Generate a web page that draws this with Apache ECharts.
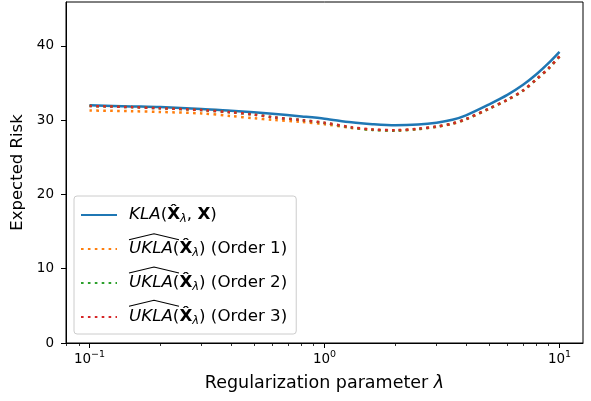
<!DOCTYPE html>
<html><head><meta charset="utf-8">
<script src="https://cdn.jsdelivr.net/npm/echarts@6/dist/echarts.min.js"></script>
<style>html,body{margin:0;padding:0;background:#fff}#c{width:591px;height:401px}</style>
</head><body><div id="c"></div>
<script>
// ---- data ----
const lambdas   = [0.1, 0.15, 0.2, 0.3, 0.4, 0.5, 0.6, 0.8, 1.0, 1.3, 1.6, 2.0, 2.5, 3.0, 3.5, 4.0, 5.0, 6.0, 7.0, 8.0, 9.0, 10.0];
const klaValues = [32.0, 31.85, 31.75, 31.5, 31.25, 31.05, 30.85, 30.5, 30.2, 29.7, 29.45, 29.3, 29.4, 29.65, 30.05, 30.65, 32.1, 33.4, 34.75, 36.2, 37.7, 39.2];
const order1    = [31.3, 31.2, 31.1, 30.9, 30.55, 30.25, 30.05, 29.75, 29.45, 28.95, 28.7, 28.6, 28.8, 29.1, 29.5, 30.1, 31.5, 32.7, 33.95, 35.5, 36.95, 38.55];
const order2    = [31.9, 31.75, 31.6, 31.35, 31.05, 30.75, 30.4, 30.0, 29.62, 29.0, 28.68, 28.58, 28.8, 29.12, 29.53, 30.13, 31.53, 32.73, 33.98, 35.53, 36.98, 38.58];
const order3    = [31.9, 31.75, 31.6, 31.35, 31.05, 30.75, 30.4, 30.0, 29.65, 29.05, 28.75, 28.65, 28.85, 29.15, 29.55, 30.15, 31.55, 32.75, 34.0, 35.55, 37.0, 38.6];
const yTicks = [0, 10, 20, 30, 40];
const xMajorTicks = [0.1, 1, 10];
const xMajorExp = {'0.1': '\u22121', '1': '0', '10': '1'};
const xMinorTicks = [0.08, 0.09, 0.2, 0.3, 0.4, 0.5, 0.6, 0.7, 0.8, 0.9, 2, 3, 4, 5, 6, 7, 8, 9];
const seriesNames = ['KLA', 'UKLA1', 'UKLA2', 'UKLA3'];
const colors = ['#1f77b4', '#ff7f0e', '#2ca02c', '#d62728'];

const FONT = 'DejaVu Sans';
const LFS = 16.7;
const pair = (ys) => lambdas.map((x, i) => [x, ys[i]]);
const dotted = [2.6, 4.3];

const legendText = {
  KLA:   '{it|KLA}(' + '{bx|X\u0302}{sub|\u03bb}, {bx|X})',
  UKLA1: '{it|UKLA}(' + '{bx|X\u0302}{sub|\u03bb}) (Order 1)',
  UKLA2: '{it|UKLA}(' + '{bx|X\u0302}{sub|\u03bb}) (Order 2)',
  UKLA3: '{it|UKLA}(' + '{bx|X\u0302}{sub|\u03bb}) (Order 3)'
};

function hat(cy) {
  return {
    type: 'polyline', z: 100,
    shape: {points: [[129, cy - 11], [154, cy - 17], [179, cy - 11]]},
    style: {stroke: '#000', lineWidth: 1.1, fill: null}
  };
}

const chart = echarts.init(document.getElementById('c'), null, {renderer: 'canvas'});
const XMIN = 0.07943, XMAX = 12.589;
chart.setOption({
  animation: false,
  backgroundColor: '#fff',
  textStyle: {fontFamily: FONT},
  grid: {left: 66, right: 8, top: 2, bottom: 58, show: true, borderColor: '#000', borderWidth: 1, containLabel: false},
  xAxis: [{
    type: 'log', logBase: 10, min: XMIN, max: XMAX, position: 'bottom',
    axisLine: {show: true, lineStyle: {color: '#000', width: 1}},
    axisTick: {show: true, customValues: xMajorTicks, length: 5, lineStyle: {color: '#000', width: 1}},
    axisLabel: {
      customValues: xMajorTicks, margin: 7, color: '#000',
      formatter: (v) => '{b|10}{s|' + xMajorExp[String(v)] + '}',
      rich: {
        b: {fontFamily: FONT, fontSize: 13.5, lineHeight: 18, color: '#000'},
        s: {fontFamily: FONT, fontSize: 9.5, lineHeight: 10, verticalAlign: 'top', color: '#000'}
      }
    },
    splitLine: {show: false},
    name: 'Regularization parameter {i|\u03bb}', nameLocation: 'middle', nameGap: 31,
    nameTextStyle: {fontFamily: FONT, fontSize: 17.5, color: '#000', rich: {i: {fontFamily: FONT, fontSize: 17.5, fontStyle: 'italic', color: '#000'}}}
  }, {
    type: 'log', logBase: 10, min: XMIN, max: XMAX, position: 'bottom', offset: 0,
    axisLine: {show: false},
    axisTick: {show: true, customValues: xMinorTicks, length: 3, lineStyle: {color: '#000', width: 0.8}},
    axisLabel: {show: false},
    splitLine: {show: false}
  }],
  yAxis: {
    type: 'value', min: 0, max: 45.9,
    axisLine: {show: true, lineStyle: {color: '#000', width: 1}},
    axisTick: {show: true, customValues: yTicks, length: 5, lineStyle: {color: '#000'}},
    axisLabel: {customValues: yTicks, fontFamily: FONT, fontSize: 13.5, color: '#000', margin: 12},
    splitLine: {show: false},
    name: 'Expected Risk', nameLocation: 'middle', nameGap: 35,
    nameTextStyle: {fontFamily: FONT, fontSize: 16.5, color: '#000'}
  },
  legend: {
    orient: 'vertical', left: 74, top: 196,
    padding: [9, 9, 7, 6], itemWidth: 36, itemHeight: 14, itemGap: 14,
    borderColor: '#cccccc', borderWidth: 1, borderRadius: 3, backgroundColor: 'rgba(255,255,255,0.8)',
    itemStyle: {opacity: 0},
    data: seriesNames,
    formatter: (n) => legendText[n],
    textStyle: {
      fontFamily: FONT, fontSize: LFS, color: '#000', lineHeight: 20, padding: [0, 0, 0, 7],
      rich: {
        it: {fontFamily: FONT, fontSize: LFS, fontStyle: 'italic', color: '#000'},
        bx: {fontFamily: FONT, fontSize: LFS, fontWeight: 'bold', color: '#000'},
        sub: {fontFamily: FONT, fontSize: 11.5, fontStyle: 'italic', verticalAlign: 'bottom', lineHeight: 13, color: '#000'}
      }
    }
  },
  graphic: [hat(250.7), hat(284), hat(317.2)],
  series: [
    {name: 'KLA', type: 'line', data: pair(klaValues), smooth: 0.3, symbol: 'none', color: colors[0], lineStyle: {width: 2.5, color: colors[0]}},
    {name: 'UKLA1', type: 'line', data: pair(order1), smooth: 0.3, symbol: 'none', color: colors[1], lineStyle: {width: 2.5, color: colors[1], type: dotted}},
    {name: 'UKLA2', type: 'line', data: pair(order2), smooth: 0.3, symbol: 'none', color: colors[2], lineStyle: {width: 2.5, color: colors[2], type: dotted}},
    {name: 'UKLA3', type: 'line', data: pair(order3), smooth: 0.3, symbol: 'none', color: colors[3], lineStyle: {width: 2.5, color: colors[3], type: dotted}}
  ]
});
</script></body></html>
